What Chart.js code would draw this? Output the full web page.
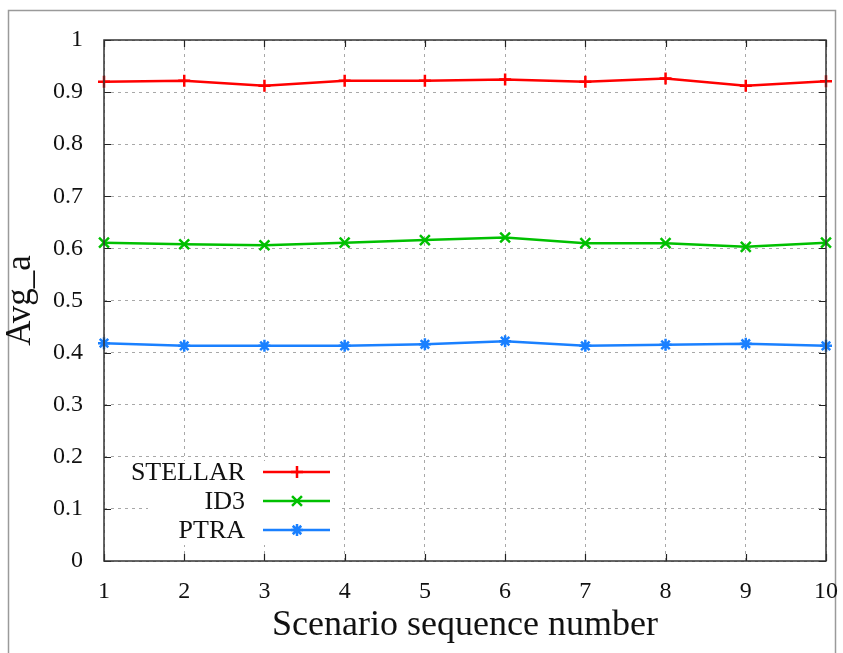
<!DOCTYPE html>
<html>
<head>
<meta charset="utf-8">
<title>Avg_a by scenario</title>
<script src="https://cdn.jsdelivr.net/npm/chart.js@4.4.1/dist/chart.umd.min.js"></script>
<style>
    body { margin: 0; background: #fff; }
    canvas { display: block; }
</style>
</head>
<body>
<canvas id="avgChart" width="843" height="653"></canvas>
<script>
// Scenario numbers on the x axis
const scenarios = ["1", "2", "3", "4", "5", "6", "7", "8", "9", "10"];
const yTicks = [0, 0.1, 0.2, 0.3, 0.4, 0.5, 0.6, 0.7, 0.8, 0.9, 1];

// Average values per method
const stellar = [0.920, 0.922, 0.912, 0.922, 0.922, 0.924, 0.920, 0.926, 0.912, 0.921];
const id3 = [0.611, 0.608, 0.606, 0.611, 0.616, 0.621, 0.610, 0.610, 0.603, 0.611];
const ptra = [0.418, 0.413, 0.413, 0.413, 0.416, 0.422, 0.413, 0.415, 0.417, 0.413];

const serif = "'Liberation Serif', 'Times New Roman', serif";

function lineSet(label, data, color, style, radius) {
    return {
        label: label,
        data: data,
        borderColor: color,
        backgroundColor: color,
        borderWidth: 2.5,
        pointStyle: style,
        pointRadius: radius,
        pointBorderWidth: 2.5,
        pointBorderColor: color,
        tension: 0
    };
}

// Outer frame, inward ticks, plot border and the key box
const framePlugin = {
    id: "frame",
    beforeDraw(chart) {
        const ctx = chart.ctx;
        ctx.save();
        ctx.fillStyle = "#fff";
        ctx.fillRect(0, 0, chart.width, chart.height);
        ctx.strokeStyle = "#9a9a9a";
        ctx.lineWidth = 1.5;
        ctx.strokeRect(8.5, 10.5, 827, 700);
        ctx.restore();
    },
    beforeDatasetsDraw(chart) {
        // blank out the grid behind the key
        const ctx = chart.ctx;
        ctx.save();
        ctx.fillStyle = "#fff";
        ctx.fillRect(148, 461, 192, 84);
        ctx.restore();
    },
    afterDatasetsDraw(chart) {
        const ctx = chart.ctx;
        const area = chart.chartArea;
        const xs = chart.scales.x, ys = chart.scales.y;
        ctx.save();
        ctx.strokeStyle = "#222";
        ctx.lineWidth = 1.2;
        ctx.beginPath();
        scenarios.forEach((s, i) => {
            const px = Math.round(xs.getPixelForValue(i)) + 0.5;
            ctx.moveTo(px, area.bottom); ctx.lineTo(px, area.bottom - 7);
            ctx.moveTo(px, area.top); ctx.lineTo(px, area.top + 7);
        });
        yTicks.forEach(v => {
            const py = Math.round(ys.getPixelForValue(v)) + 0.5;
            ctx.moveTo(area.left, py); ctx.lineTo(area.left + 7, py);
            ctx.moveTo(area.right, py); ctx.lineTo(area.right - 7, py);
        });
        ctx.stroke();
        ctx.lineWidth = 1.5;
        ctx.strokeStyle = "#333";
        ctx.strokeRect(area.left, area.top, area.right - area.left, area.bottom - area.top);
        ctx.restore();
    },
    afterDraw(chart) {
        // key in the lower left corner
        const ctx = chart.ctx;
        const rowY = [472, 501, 530];
        ctx.save();
        ctx.font = "26px " + serif;
        ctx.textAlign = "right";
        ctx.textBaseline = "middle";
        chart.data.datasets.forEach((ds, i) => {
            const y = rowY[i];
            ctx.fillStyle = "#111";
            ctx.fillText(ds.label, 245, y + 1);
            ctx.strokeStyle = ds.borderColor;
            ctx.lineWidth = ds.borderWidth;
            ctx.beginPath();
            ctx.moveTo(263, y); ctx.lineTo(330, y);
            ctx.stroke();
            ctx.fillStyle = ds.borderColor;
            Chart.helpers.drawPoint(ctx, {
                pointStyle: ds.pointStyle,
                radius: ds.pointRadius,
                rotation: 0,
                borderWidth: ds.pointBorderWidth
            }, 297, y);
        });
        ctx.restore();
    }
};

new Chart(document.getElementById("avgChart").getContext("2d"), {
    type: "line",
    data: {
        labels: scenarios,
        datasets: [
            lineSet("STELLAR", stellar, "#ff0000", "cross", 6),
            lineSet("ID3", id3, "#00c000", "crossRot", 7),
            lineSet("PTRA", ptra, "#1a80ff", "star", 6)
        ]
    },
    options: {
        responsive: false,
        animation: false,
        layout: { padding: { top: 40, right: 17, left: 0, bottom: 0 } },
        plugins: {
            legend: { display: false },
            tooltip: { enabled: false }
        },
        scales: {
            x: {
                type: "category",
                offset: false,
                afterFit: s => {
                    s.height = 92;
                    s.paddingLeft = 0;
                    s.paddingRight = 0;
                },
                grid: {
                    color: "#a8a8a8",
                    lineWidth: 1,
                    drawTicks: false
                },
                border: { display: false, dash: [3, 4] },
                ticks: {
                    padding: 16,
                    color: "#111",
                    maxRotation: 0,
                    font: { family: serif, size: 24 }
                },
                title: {
                    display: true,
                    text: "Scenario sequence number",
                    color: "#111",
                    padding: { top: 0, bottom: 6 },
                    font: { family: serif, size: 36 }
                }
            },
            y: {
                min: 0,
                max: 1,
                afterFit: s => {
                    s.width = 104;
                    s.paddingTop = 0;
                    s.paddingBottom = 0;
                },
                afterBuildTicks: s => { s.ticks = yTicks.map(v => ({ value: v })); },
                grid: {
                    color: "#a8a8a8",
                    lineWidth: 1,
                    drawTicks: false
                },
                border: { display: false, dash: [3, 4] },
                ticks: {
                    padding: 21,
                    color: "#111",
                    font: { family: serif, size: 24 },
                    callback: v => String(v)
                },
                title: {
                    display: true,
                    text: "Avg_a",
                    color: "#111",
                    padding: { top: 0, bottom: 0 },
                    font: { family: serif, size: 35 }
                }
            }
        }
    },
    plugins: [framePlugin]
});
</script>
</body>
</html>
